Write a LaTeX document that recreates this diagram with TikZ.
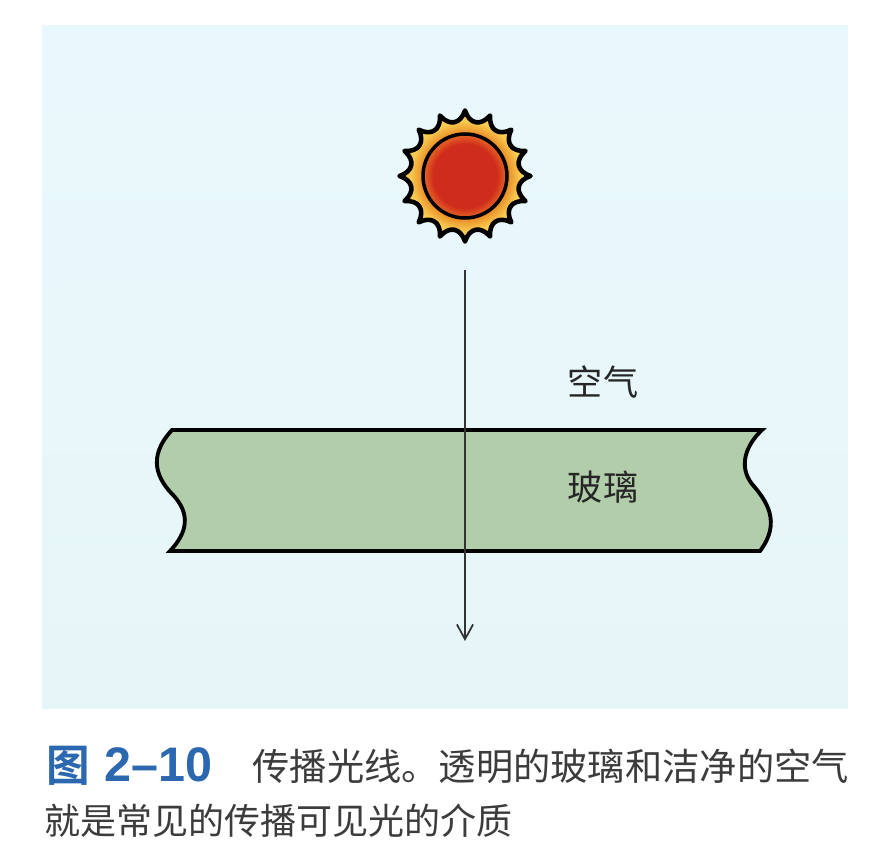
\documentclass[tikz,border=0pt]{standalone}
\usepackage{fontspec}
\newfontfamily\cjk{Noto Sans CJK SC}
\newfontfamily\cjkbold{Noto Sans CJK SC Bold}
\setsansfont{Liberation Sans}
\definecolor{skytop}{RGB}{232,248,252}
\definecolor{skybottom}{RGB}{230,246,248}
\definecolor{glassgreen}{RGB}{178,205,170}
\definecolor{sunred}{RGB}{206,44,28}
\definecolor{sunorange}{RGB}{232,104,36}
\definecolor{haloyellow}{RGB}{248,204,80}
\definecolor{haloorange}{RGB}{232,136,36}
\definecolor{capblue}{RGB}{44,104,176}
\definecolor{captext}{RGB}{60,60,60}
\usetikzlibrary{calc}
\usetikzlibrary{positioning}
\usetikzlibrary{arrows.meta}
\pgfdeclareradialshading{sundisc}{\pgfpoint{0bp}{0bp}}{color(0bp)=(sunred); color(19bp)=(sunred); color(25bp)=(sunorange); color(50bp)=(sunorange)}
\pgfdeclareradialshading{sunhalo}{\pgfpoint{0bp}{0bp}}{color(0bp)=(haloorange); color(16bp)=(haloorange); color(21bp)=(haloyellow); color(50bp)=(haloyellow)}
\tikzset{
  label/.style={font=\cjk\fontsize{10}{12}\selectfont, text=black!85, inner sep=0},
  caption/.style={font=\cjk\fontsize{10.6}{12}\selectfont, text=captext, inner sep=0, anchor=base west},
  figno/.style={font=\cjkbold\fontsize{12.4}{14}\selectfont, text=capblue, inner sep=0, anchor=base west},
  ray/.style={-{Straight Barb[length=4.2pt,width=4.6pt]}, line width=0.5pt, black!80},
}
\begin{document}
\begin{tikzpicture}

  \useasboundingbox (0,0) rectangle (8.86,-8.60);
  \fill [white] (0,0) rectangle (8.86,-8.60);
  \fill [top color=skytop, bottom color=skybottom] (0.42,-0.25) rectangle (8.48,-7.08);

  % sun
  \begin{scope}[shift={(4.65,-1.76)}]
    \draw [line width=1.3pt, line join=round, shading=sunhalo]
      (0:0.655) \foreach \a in {0,22.5,...,337.5} {
        .. controls (\a+5:0.52) and (\a+17.5:0.52) .. (\a+22.5:0.655)
      } -- cycle;
    \draw [line width=1pt, shading=sundisc] (0,0) circle (0.42);
  \end{scope}

  % glass
  \draw [line width=1.1pt, line join=miter, fill=glassgreen]
    (1.72,-4.30) -- (7.62,-4.30)
    .. controls (7.46,-4.45) and (7.38,-4.66) .. (7.52,-4.84)
    .. controls (7.66,-5.00) and (7.82,-5.22) .. (7.60,-5.51)
    -- (1.70,-5.51)
    .. controls (1.88,-5.32) and (1.90,-5.14) .. (1.74,-4.96)
    .. controls (1.58,-4.80) and (1.46,-4.58) .. (1.72,-4.30) -- cycle;

  % ray
  \coordinate (raystart) at (4.65,-2.70);
  \coordinate (rayend) at (4.65,-6.41);
  \draw [ray] (raystart) -- (rayend);

  \node [label] (air) at (6.03,-3.82) {空气};
  \node [label] (glass) at (6.03,-4.87) {玻璃};

  % caption
  \node [figno] (figchar) at (0.46,-7.815) {图};
  \node [figno, font=\sffamily\bfseries\fontsize{13.8}{15}\selectfont] (fignum) at (1.04,-7.81) {2–10};
  \node [caption] (capone) at (2.52,-7.80) {传播光线。透明的玻璃和洁净的空气};
  \node [caption, font=\cjk\fontsize{10.25}{12}\selectfont] (captwo) at (0.44,-8.34) {就是常见的传播可见光的介质};

\end{tikzpicture}
\end{document}
